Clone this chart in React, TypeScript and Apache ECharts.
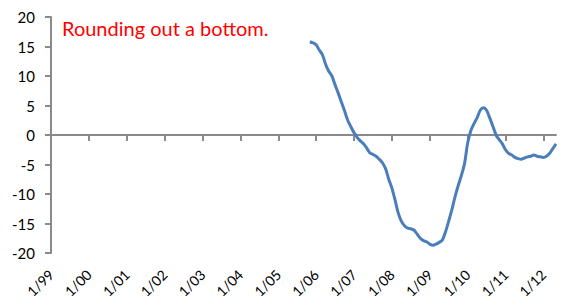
import React, { useEffect, useRef } from "react";
import * as echarts from "echarts";

const yearLabels = ["1/99", "1/00", "1/01", "1/02", "1/03", "1/04", "1/05", "1/06", "1/07", "1/08", "1/09", "1/10", "1/11", "1/12"];
const yearShort = ["99", "00", "01", "02", "03", "04", "05", "06", "07", "08", "09", "10", "11", "12"];
const monthCount = 161; // Jan 1999 .. May 2012
const firstDataIndex = 82; // Nov 2005
const seriesValues = [
  15.8, 15.6, 15.3, 14.4, 13.6, 12.0, 10.8, 10.0, 8.5, 7.1, 5.6, 4.1, 2.5, 1.4, 0.4, -0.4,
  -1.0, -1.5, -2.2, -3.0, -3.3, -3.6, -4.1, -4.7, -5.7, -7.5, -9.0, -11.0, -13.2, -14.6, -15.4,
  -15.8, -15.9, -16.1, -16.8, -17.5, -17.9, -18.1, -18.5, -18.7, -18.5, -18.2, -17.8, -16.4,
  -14.6, -12.7, -10.5, -8.6, -6.9, -4.9, -1.4, 0.7, 1.9, 2.9, 4.2, 4.6, 4.2, 2.9, 1.5, 0.0,
  -0.8, -1.5, -2.5, -3.1, -3.4, -3.8, -4.0, -4.1, -3.9, -3.7, -3.6, -3.4, -3.6, -3.7, -3.8,
  -3.6, -3.1, -2.3, -1.5,
];
const titleText = "Rounding out a bottom.";

const categories: string[] = [];
for (let i = 0; i < monthCount; i++) {
  const y = Math.floor(i / 12);
  categories.push(i % 12 === 0 ? yearLabels[y] : `${(i % 12) + 1}/${yearShort[y]}`);
}
const data: (number | null)[] = [];
for (let i = 0; i < monthCount; i++) {
  const k = i - firstDataIndex;
  data.push(k >= 0 && k < seriesValues.length ? seriesValues[k] : null);
}

const FONT = "Lato, 'Open Sans', sans-serif";
const AXIS_COLOR = "#8a8a8a";

export default function App() {
  const ref = useRef<HTMLDivElement>(null);
  useEffect(() => {
    if (!ref.current) return;
    const chart = echarts.init(ref.current, undefined, { renderer: "svg" });
    const yearly = (i: number) => i % 12 === 0;
    chart.setOption({
      animation: false,
      backgroundColor: "#ffffff",
      title: {
        text: titleText,
        left: 57,
        top: 13,
        textStyle: { color: "#ff0000", fontSize: 20, fontWeight: "normal", fontFamily: FONT },
      },
      grid: { left: 51, right: 15, top: 17, bottom: 55, containLabel: false },
      xAxis: [
        {
          type: "category",
          data: categories,
          boundaryGap: false,
          axisLine: { onZero: true, lineStyle: { color: AXIS_COLOR, width: 2 } },
          axisTick: { show: true, interval: yearly, length: 6, lineStyle: { color: AXIS_COLOR, width: 2 } },
          axisLabel: { show: false },
          splitLine: { show: false },
        },
        {
          type: "category",
          data: categories,
          boundaryGap: false,
          position: "bottom",
          axisLine: { show: false, onZero: false },
          axisTick: { show: false },
          axisLabel: {
            interval: yearly,
            rotate: 45,
            margin: 19,
            color: "#000000",
            fontSize: 14,
            fontFamily: FONT,
          },
          splitLine: { show: false },
        },
      ],
      yAxis: {
        type: "value",
        min: -20,
        max: 20,
        interval: 5,
        axisLine: { show: true, lineStyle: { color: AXIS_COLOR, width: 2 } },
        axisTick: { show: true, length: 6, lineStyle: { color: AXIS_COLOR, width: 2 } },
        axisLabel: { color: "#000000", fontSize: 15, fontFamily: FONT, margin: 16 },
        splitLine: { show: false },
      },
      series: [
        {
          type: "line",
          xAxisIndex: 0,
          data,
          showSymbol: false,
          smooth: 0.3,
          connectNulls: false,
          lineStyle: { color: "#4a7ebb", width: 3 },
          itemStyle: { color: "#4a7ebb" },
        },
      ],
    });
    return () => chart.dispose();
  }, []);
  return <div ref={ref} style={{ position: "fixed", left: 0, top: 0, width: 571, height: 308 }} />;
}
